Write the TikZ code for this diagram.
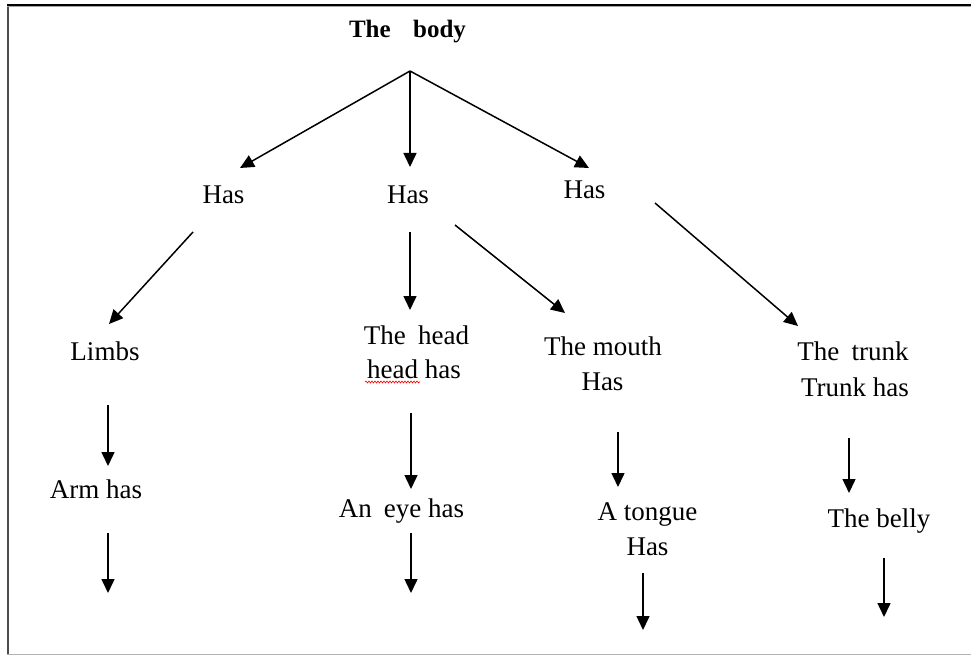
\documentclass[tikz,border=0pt]{standalone}
\usepackage{fontspec}
\setmainfont{Liberation Serif}
\usetikzlibrary{arrows.meta,decorations.pathmorphing}
\begin{document}
\begin{tikzpicture}[x=1pt,y=-1pt,
  lbl/.style={anchor=base, inner sep=0pt, font=\fontsize{27}{31}\selectfont},
  ttl/.style={anchor=base, inner sep=0pt, font=\fontsize{25}{30}\selectfont\bfseries},
  arr/.style={-{Triangle[width=13pt,length=14pt]}, line width=1.5pt, black}]
\useasboundingbox (0,0) rectangle (971,655);
% frame
\draw[line width=2.6pt, black!70] (8,4) -- (8,655);
\draw[line width=2pt, black] (7,5) -- (971,5);
\draw[line width=0.8pt, black!35] (7,6.8) -- (971,6.8);
\draw[line width=0.8pt, black!30] (7,654) -- (971,654);

% texts
\node[ttl] (body) at (407.5,38) {The\hspace{0.9em}body};
\node[lbl] (hasL) at (223.5,204) {Has};
\node[lbl] (hasM) at (408,204) {Has};
\node[lbl] (hasR) at (584.5,198) {Has};
\node[lbl] (limbs) at (105,360) {Limbs};
\node[lbl] (head1) at (416.5,344) {The\hspace{0.45em}head};
\node[lbl] (head2) at (414,378) {head has};
\node[lbl] (mouth1) at (603,355) {The mouth};
\node[lbl] (mouth2) at (602.5,390) {Has};
\node[lbl] (trunk1) at (853,360) {The\hspace{0.45em}trunk};
\node[lbl] (trunk2) at (855,396) {Trunk has};
\node[lbl] (arm) at (96,498) {Arm has};
\node[lbl] (eye) at (401.5,517) {An\hspace{0.45em}eye has};
\node[lbl] (tongue1) at (647.5,520) {A tongue};
\node[lbl] (tongue2) at (647.5,555) {Has};
\node[lbl] (belly) at (879,527) {The belly};

% spelling squiggle under "head"
\draw[red, line width=0.6pt, decorate, decoration={snake, amplitude=1pt, segment length=3pt}] (365,382) -- (420,382);

% connector end points
\coordinate (apex) at (410,71);
\coordinate (tL) at (240,168);
\coordinate (tM) at (410,167);
\coordinate (tR) at (589,168);
\coordinate (sL) at (193,232);
\coordinate (eL) at (109,324);
\coordinate (sM1) at (410,232);
\coordinate (eM1) at (410,310);
\coordinate (sM2) at (455,225);
\coordinate (eM2) at (565,313);
\coordinate (sR) at (655,203);
\coordinate (eR) at (798,326);
\coordinate (a1s) at (108,405);
\coordinate (a1e) at (108,466);
\coordinate (a2s) at (108,533);
\coordinate (a2e) at (108,593);
\coordinate (b1s) at (411,413);
\coordinate (b1e) at (411,489);
\coordinate (b2s) at (411,533);
\coordinate (b2e) at (411,593);
\coordinate (c1s) at (618,432);
\coordinate (c1e) at (618,487);
\coordinate (c2s) at (643,573);
\coordinate (c2e) at (643,630);
\coordinate (d1s) at (849,438);
\coordinate (d1e) at (849,493);
\coordinate (d2s) at (884,558);
\coordinate (d2e) at (884,617);

% arrows
\draw[arr] (apex) -- (tL);
\draw[arr] (apex) -- (tM);
\draw[arr] (apex) -- (tR);
\draw[arr] (sL) -- (eL);
\draw[arr] (sM1) -- (eM1);
\draw[arr] (sM2) -- (eM2);
\draw[arr] (sR) -- (eR);
\draw[arr] (a1s) -- (a1e);
\draw[arr] (a2s) -- (a2e);
\draw[arr] (b1s) -- (b1e);
\draw[arr] (b2s) -- (b2e);
\draw[arr] (c1s) -- (c1e);
\draw[arr] (c2s) -- (c2e);
\draw[arr] (d1s) -- (d1e);
\draw[arr] (d2s) -- (d2e);
\end{tikzpicture}
\end{document}
